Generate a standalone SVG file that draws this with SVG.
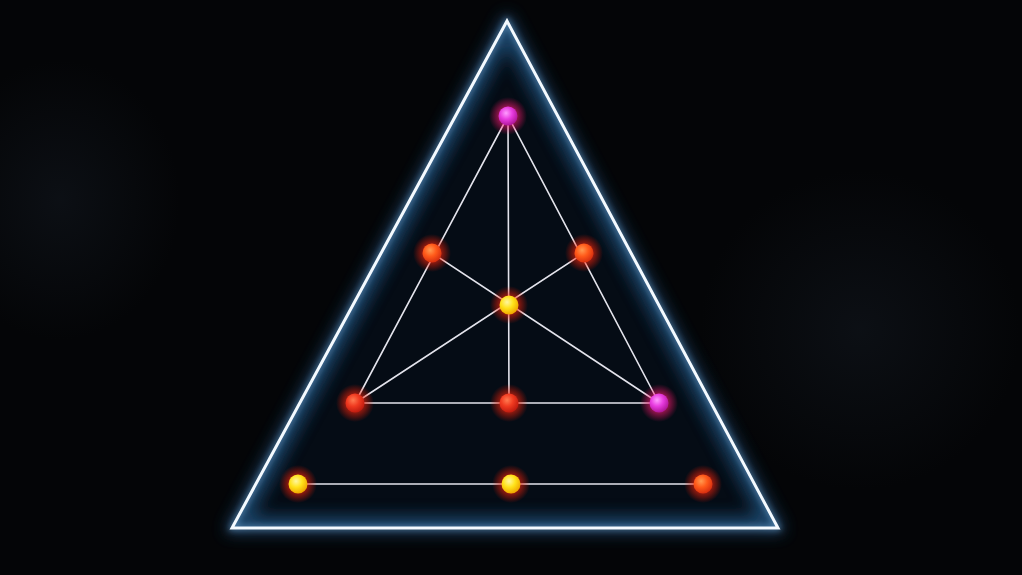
<svg xmlns="http://www.w3.org/2000/svg" width="1022" height="575" viewBox="0 0 1022 575">
  <defs>
    <style>
      .edge { stroke: #e4e4ec; stroke-width: 1.6; fill: none; stroke-linecap: round; }
      .halo { opacity: 0.85; }
    </style>
    <filter id="blur8" x="-20%" y="-20%" width="140%" height="140%"><feGaussianBlur stdDeviation="8"/></filter>
    <filter id="blur3" x="-20%" y="-20%" width="140%" height="140%"><feGaussianBlur stdDeviation="3"/></filter>
    <clipPath id="triClip"><polygon points="507,21 232,528 778,528"/></clipPath>
    <radialGradient id="gMag" cx="40%" cy="35%" r="65%"><stop offset="0" stop-color="#ff9cff"/><stop offset="0.5" stop-color="#e83ce0"/><stop offset="1" stop-color="#b0189a"/></radialGradient>
    <radialGradient id="gOr" cx="40%" cy="35%" r="65%"><stop offset="0" stop-color="#ff9a50"/><stop offset="0.5" stop-color="#ff5a1a"/><stop offset="1" stop-color="#d83010"/></radialGradient>
    <radialGradient id="gYel" cx="40%" cy="35%" r="65%"><stop offset="0" stop-color="#fff6a0"/><stop offset="0.5" stop-color="#ffe21a"/><stop offset="1" stop-color="#f0a800"/></radialGradient>
    <radialGradient id="gRed" cx="40%" cy="35%" r="65%"><stop offset="0" stop-color="#ff7a50"/><stop offset="0.5" stop-color="#f03a20"/><stop offset="1" stop-color="#c01c10"/></radialGradient>
    <radialGradient id="halo" r="50%"><stop offset="0.3" stop-color="#ff2a10" stop-opacity="0.9"/><stop offset="1" stop-color="#ff1a00" stop-opacity="0"/></radialGradient>
    <radialGradient id="haloM" r="50%"><stop offset="0.3" stop-color="#ff2080" stop-opacity="0.9"/><stop offset="1" stop-color="#ff1060" stop-opacity="0"/></radialGradient>
    <radialGradient id="bgGlow" cx="50%" cy="50%" r="50%"><stop offset="0" stop-color="#0e1218" stop-opacity="0.8"/><stop offset="1" stop-color="#0e1218" stop-opacity="0"/></radialGradient>
  </defs>

  <rect width="1022" height="575" fill="#040507"/>
  <ellipse cx="860" cy="330" rx="160" ry="160" fill="url(#bgGlow)"/>
  <ellipse cx="60" cy="200" rx="120" ry="140" fill="url(#bgGlow)"/>

  <g id="triangle">
    <polygon points="507,21 232,528 778,528" fill="none" stroke="#2a6aa8" stroke-width="8" filter="url(#blur8)" opacity="0.7"/>
    <polygon points="507,21 232,528 778,528" fill="#050c15"/>
    <g clip-path="url(#triClip)">
      <polygon points="507,21 232,528 778,528" fill="none" stroke="#1c4a70" stroke-width="24" filter="url(#blur8)" opacity="0.9"/>
    </g>
    <polygon points="507,21 232,528 778,528" fill="none" stroke="#7fb8e8" stroke-width="5" filter="url(#blur3)" opacity="0.55"/>
    <polygon points="507,21 232,528 778,528" fill="none" stroke="#f4faff" stroke-width="3" stroke-linejoin="miter"/>
  </g>

  <g id="connectors">
    <line class="edge" x1="508" y1="116" x2="355" y2="403"/>
    <line class="edge" x1="508" y1="116" x2="659" y2="403"/>
    <line class="edge" x1="508" y1="116" x2="509" y2="403"/>
    <line class="edge" x1="432" y1="253" x2="659" y2="403"/>
    <line class="edge" x1="584" y1="253" x2="355" y2="403"/>
    <line class="edge" x1="355" y1="403" x2="659" y2="403"/>
    <line class="edge" x1="298" y1="484" x2="703" y2="484"/>
  </g>

  <g id="node-top"><circle cx="508" cy="116" r="19" fill="url(#haloM)" class="halo"/><circle cx="508" cy="116" r="9.5" fill="url(#gMag)"/></g>
  <g id="node-ul"><circle cx="432" cy="253" r="19" fill="url(#halo)" class="halo"/><circle cx="432" cy="253" r="9.5" fill="url(#gOr)"/></g>
  <g id="node-ur"><circle cx="584" cy="253" r="19" fill="url(#halo)" class="halo"/><circle cx="584" cy="253" r="9.5" fill="url(#gOr)"/></g>
  <g id="node-center"><circle cx="509" cy="305" r="19" fill="url(#halo)" class="halo"/><circle cx="509" cy="305" r="9.5" fill="url(#gYel)"/></g>
  <g id="node-ml"><circle cx="355" cy="403" r="19" fill="url(#halo)" class="halo"/><circle cx="355" cy="403" r="9.5" fill="url(#gRed)"/></g>
  <g id="node-mc"><circle cx="509" cy="403" r="19" fill="url(#halo)" class="halo"/><circle cx="509" cy="403" r="9.5" fill="url(#gRed)"/></g>
  <g id="node-mr"><circle cx="659" cy="403" r="19" fill="url(#haloM)" class="halo"/><circle cx="659" cy="403" r="9.5" fill="url(#gMag)"/></g>
  <g id="node-bl"><circle cx="298" cy="484" r="19" fill="url(#halo)" class="halo"/><circle cx="298" cy="484" r="9.5" fill="url(#gYel)"/></g>
  <g id="node-bc"><circle cx="511" cy="484" r="19" fill="url(#halo)" class="halo"/><circle cx="511" cy="484" r="9.5" fill="url(#gYel)"/></g>
  <g id="node-br"><circle cx="703" cy="484" r="19" fill="url(#halo)" class="halo"/><circle cx="703" cy="484" r="9.5" fill="url(#gOr)"/></g>
</svg>
